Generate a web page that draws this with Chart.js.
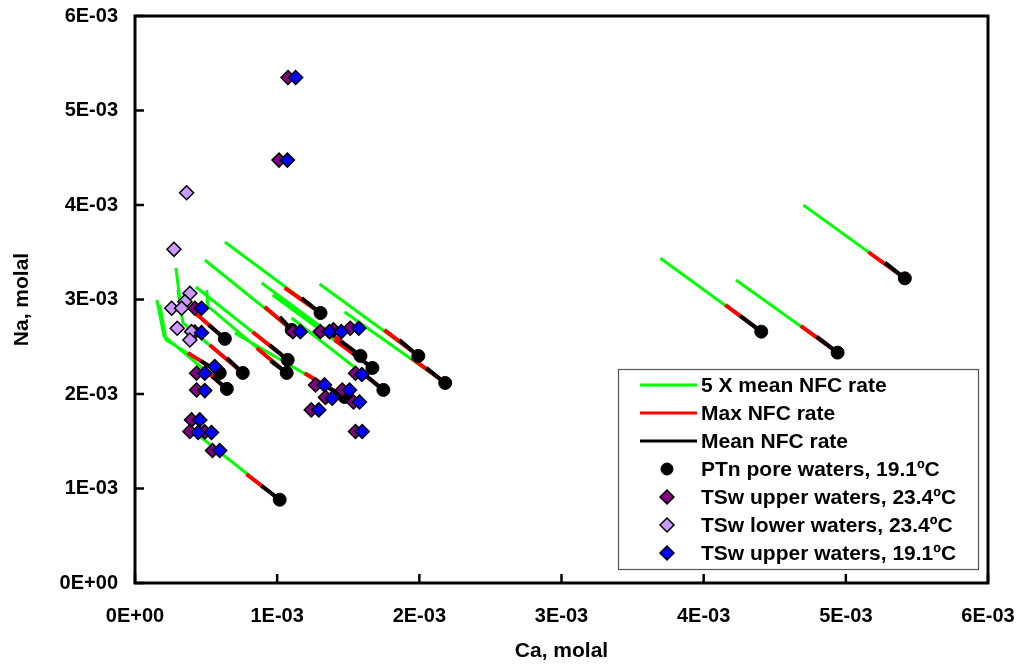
<!DOCTYPE html>
<html>
<head>
  <title>Na vs Ca - NFC rate paths</title>
  <script src="https://cdn.jsdelivr.net/npm/chart.js"></script>
  <style>
    html, body { margin: 0; padding: 0; background: #fff; }
    canvas { display: block; }
  </style>
</head>
<body>
  <canvas id="chart" width="1020" height="668"></canvas>

  <script>
    // PTn pore waters, 19.1ºC (end point of every path)
    const ptnCa = [0.646e-3, 0.596e-3, 0.632e-3, 0.758e-3, 1.074e-3, 1.067e-3, 1.102e-3, 1.305e-3, 1.586e-3,
                   1.670e-3, 1.993e-3, 2.182e-3, 1.747e-3, 1.474e-3, 1.018e-3, 5.415e-3, 4.405e-3, 4.942e-3];
    const ptnNa = [2.054e-3, 2.223e-3, 2.584e-3, 2.223e-3, 2.361e-3, 2.223e-3, 2.678e-3, 2.857e-3, 2.403e-3,
                   2.276e-3, 2.403e-3, 2.117e-3, 2.043e-3, 1.969e-3, 0.881e-3, 3.224e-3, 2.660e-3, 2.438e-3];

    // 5 X mean NFC rate: upstream points of each path [Ca, Na]
    const fastPaths = [
      [[0.154e-3, 2.995e-3], [0.204e-3, 2.614e-3]],
      [[0.175e-3, 2.942e-3], [0.218e-3, 2.572e-3]],
      [[0.288e-3, 3.333e-3], [0.316e-3, 2.995e-3]],
      [[0.302e-3, 3.100e-3], [0.337e-3, 2.752e-3]],
      [[0.428e-3, 3.132e-3]],
      [[0.505e-3, 3.100e-3], [0.512e-3, 2.931e-3]],
      [[0.491e-3, 3.418e-3]],
      [[0.632e-3, 3.608e-3]],
      [[0.891e-3, 3.174e-3]],
      [[0.968e-3, 3.048e-3]],
      [[1.298e-3, 3.164e-3]],
      [[1.474e-3, 2.868e-3]],
      [[1.102e-3, 2.804e-3]],
      [[0.702e-3, 2.646e-3]],
      [[0.456e-3, 1.552e-3]],
      [[4.702e-3, 3.999e-3]],
      [[3.696e-3, 3.436e-3]],
      [[4.227e-3, 3.206e-3]]
    ];

    // Max NFC rate: start of each path [Ca, Na]
    const maxStarts = [
      [0.470e-3, 2.278e-3], [0.372e-3, 2.435e-3], [0.407e-3, 2.878e-3], [0.526e-3, 2.519e-3],
      [0.828e-3, 2.656e-3], [0.856e-3, 2.487e-3], [0.912e-3, 2.923e-3], [1.053e-3, 3.122e-3],
      [1.319e-3, 2.699e-3], [1.404e-3, 2.572e-3], [1.754e-3, 2.678e-3], [1.944e-3, 2.382e-3],
      [1.579e-3, 2.244e-3], [1.193e-3, 2.220e-3], [0.784e-3, 1.152e-3], [5.160e-3, 3.500e-3],
      [4.152e-3, 2.942e-3], [4.683e-3, 2.720e-3]
    ];

    // Mean NFC rate: start of each path [Ca, Na]
    const meanStarts = [
      [0.547e-3, 2.182e-3], [0.463e-3, 2.350e-3], [0.519e-3, 2.731e-3], [0.646e-3, 2.382e-3],
      [0.947e-3, 2.519e-3], [0.954e-3, 2.350e-3], [1.018e-3, 2.817e-3], [1.172e-3, 3.016e-3],
      [1.446e-3, 2.561e-3], [1.530e-3, 2.434e-3], [1.860e-3, 2.572e-3], [2.049e-3, 2.276e-3],
      [1.635e-3, 2.181e-3], [1.319e-3, 2.102e-3], [0.889e-3, 1.029e-3], [5.275e-3, 3.390e-3],
      [4.257e-3, 2.826e-3], [4.795e-3, 2.607e-3]
    ];

    // TSw upper waters, 23.4ºC
    const upper23Ca = [1.076e-3, 1.013e-3, 0.421e-3, 0.421e-3, 0.433e-3, 0.433e-3, 0.398e-3, 0.386e-3, 0.491e-3,
                       0.545e-3, 1.111e-3, 1.303e-3, 1.396e-3, 1.514e-3, 1.551e-3, 1.270e-3, 1.458e-3, 1.340e-3,
                       1.537e-3, 1.240e-3, 1.551e-3];
    const upper23Na = [5.349e-3, 4.475e-3, 2.907e-3, 2.656e-3, 2.220e-3, 2.043e-3, 1.726e-3, 1.603e-3, 1.599e-3,
                       1.402e-3, 2.660e-3, 2.660e-3, 2.678e-3, 2.696e-3, 2.220e-3, 2.096e-3, 2.043e-3, 1.964e-3,
                       1.916e-3, 1.832e-3, 1.603e-3];

    // TSw lower waters, 23.4ºC
    const lower23Ca = [0.363e-3, 0.274e-3, 0.386e-3, 0.351e-3, 0.258e-3, 0.328e-3, 0.297e-3, 0.398e-3, 0.386e-3];
    const lower23Na = [4.129e-3, 3.531e-3, 3.066e-3, 2.977e-3, 2.907e-3, 2.907e-3, 2.696e-3, 2.660e-3, 2.572e-3];

    // TSw upper waters, 19.1ºC
    const upper19Ca = [1.130e-3, 1.072e-3, 0.468e-3, 0.468e-3, 0.491e-3, 0.561e-3, 0.491e-3, 0.456e-3, 0.444e-3,
                       0.538e-3, 0.596e-3, 1.163e-3, 1.368e-3, 1.451e-3, 1.574e-3, 1.596e-3, 1.333e-3, 1.509e-3,
                       1.387e-3, 1.579e-3, 1.293e-3, 1.598e-3];
    const upper19Na = [5.349e-3, 4.475e-3, 2.907e-3, 2.649e-3, 2.220e-3, 2.290e-3, 2.036e-3, 1.726e-3, 1.592e-3,
                       1.592e-3, 1.402e-3, 2.660e-3, 2.660e-3, 2.660e-3, 2.696e-3, 2.207e-3, 2.096e-3, 2.043e-3,
                       1.956e-3, 1.916e-3, 1.832e-3, 1.603e-3];

    const axisTicks = [0, 1e-3, 2e-3, 3e-3, 4e-3, 5e-3, 6e-3];

    Chart.defaults.font.family = '"Liberation Sans", Arial, sans-serif';
    Chart.defaults.color = '#000';

    const xy = (ca, na) => ({ x: ca, y: na });
    const gap = { x: null, y: null };

    // each path runs from its start point down to the PTn water it ends at
    function pathData(startFor) {
      const out = [];
      ptnCa.forEach((ca, i) => {
        startFor(i).forEach(p => out.push(xy(p[0], p[1])));
        out.push(xy(ca, ptnNa[i]), gap);
      });
      return out;
    }

    const pairs = (cas, nas) => cas.map((c, i) => xy(c, nas[i]));

    // 0E+00, 1E-03 ...
    function sci(v) {
      if (Math.abs(v) < 1e-12) return '0E+00';
      const e = Math.floor(Math.log10(v) + 1e-9);
      const m = Math.round(v / Math.pow(10, e));
      return m + 'E' + (e < 0 ? '-' : '+') + String(Math.abs(e)).padStart(2, '0');
    }

    function marker(ctx, style, x, y, r, fill) {
      ctx.beginPath();
      if (style === 'circle') {
        ctx.arc(x, y, r, 0, Math.PI * 2);
      } else {
        ctx.moveTo(x - r, y); ctx.lineTo(x, y - r); ctx.lineTo(x + r, y); ctx.lineTo(x, y + r);
        ctx.closePath();
      }
      ctx.fillStyle = fill;
      ctx.fill();
      ctx.lineWidth = style === 'circle' ? 1 : 1.5;
      ctx.strokeStyle = '#000';
      ctx.stroke();
    }

    // box frame and inward tick marks
    const framePlugin = {
      id: 'frame',
      afterDatasetsDraw(chart) {
        const { ctx, chartArea: a, scales } = chart;
        ctx.save();
        ctx.strokeStyle = '#000';
        ctx.lineWidth = 3;
        ctx.strokeRect(a.left, a.top, a.right - a.left, a.bottom - a.top);
        ctx.lineWidth = 2.5;
        ctx.beginPath();
        axisTicks.forEach(v => {
          const px = scales.x.getPixelForValue(v);
          ctx.moveTo(px, a.bottom); ctx.lineTo(px, a.bottom - 9);
          const py = scales.y.getPixelForValue(v);
          ctx.moveTo(a.left, py); ctx.lineTo(a.left + 9, py);
        });
        ctx.stroke();
        ctx.restore();
      }
    };

    // legend in a box inside the plot
    const boxLegend = {
      id: 'boxLegend',
      afterDraw(chart) {
        const ctx = chart.ctx;
        const left = 618, top = 369, w = 360, h = 200;
        ctx.save();
        ctx.fillStyle = '#fff';
        ctx.fillRect(left, top, w, h);
        ctx.strokeStyle = '#555';
        ctx.lineWidth = 1.2;
        ctx.strokeRect(left + 0.5, top + 0.5, w, h);
        ctx.font = 'bold 21px "Liberation Sans", Arial, sans-serif';
        ctx.textBaseline = 'middle';
        chart.data.datasets.forEach((ds, i) => {
          const yy = top + 16 + i * 28;
          if (ds.showLine) {
            ctx.strokeStyle = ds.borderColor;
            ctx.lineWidth = 3;
            ctx.beginPath();
            ctx.moveTo(640, yy); ctx.lineTo(697, yy);
            ctx.stroke();
          } else {
            marker(ctx, ds.pointStyle, 667, yy, ds.pointStyle === 'circle' ? 6 : 7, ds.backgroundColor);
          }
          ctx.fillStyle = '#000';
          ctx.fillText(ds.label, 701, yy + 1);
        });
        ctx.restore();
      }
    };

    const lineSet = (label, color, width, data, order) => ({
      label, data, order, showLine: true, borderColor: color, backgroundColor: color,
      borderWidth: width, pointRadius: 0, pointHoverRadius: 0, spanGaps: false
    });
    const pointSet = (label, style, fill, radius, data, order) => ({
      label, data, order, showLine: false, pointStyle: style, backgroundColor: fill,
      borderColor: style === 'circle' ? fill : '#000', borderWidth: style === 'circle' ? 1 : 1.5,
      pointRadius: radius, pointHoverRadius: radius
    });

    const tickFont = { size: 20, weight: 'bold' };
    const titleFont = { size: 21, weight: 'bold' };

    // plot box is pinned by the layout padding, so drop the label overhang padding
    function noOverhang(s) {
      s.paddingLeft = 0; s.paddingRight = 0; s.paddingTop = 0; s.paddingBottom = 0;
    }

    new Chart(document.getElementById('chart'), {
      type: 'scatter',
      data: {
        datasets: [
          lineSet('5 X mean NFC rate', '#00ff00', 3, pathData(i => fastPaths[i]), 7),
          lineSet('Max NFC rate', '#ff0000', 4, pathData(i => [maxStarts[i]]), 6),
          lineSet('Mean NFC rate', '#000000', 4, pathData(i => [meanStarts[i]]), 5),
          pointSet('PTn pore waters, 19.1ºC', 'circle', '#000000', 6.5, pairs(ptnCa, ptnNa), 4),
          pointSet('TSw upper waters, 23.4ºC', 'rectRot', '#800080', 7, pairs(upper23Ca, upper23Na), 3),
          pointSet('TSw lower waters, 23.4ºC', 'rectRot', '#cc99ff', 7, pairs(lower23Ca, lower23Na), 2),
          pointSet('TSw upper waters, 19.1ºC', 'rectRot', '#0000ff', 7, pairs(upper19Ca, upper19Na), 1)
        ]
      },
      options: {
        responsive: false,
        animation: false,
        devicePixelRatio: 1,
        layout: { padding: { top: 16, right: 32, left: 0, bottom: 0 } },
        plugins: { legend: { display: false }, tooltip: { enabled: false } },
        scales: {
          x: {
            type: 'linear', min: 0, max: 6e-3,
            afterBuildTicks: s => { s.ticks = axisTicks.map(v => ({ value: v })); },
            ticks: { callback: sci, font: tickFont, color: '#000', padding: 21, maxRotation: 0, autoSkip: false },
            grid: { display: false, drawTicks: false },
            border: { display: false },
            title: { display: true, text: 'Ca, molal', font: titleFont, color: '#000', padding: { top: 0, bottom: 4 } },
            afterFit: s => { s.height = 85; noOverhang(s); }
          },
          y: {
            type: 'linear', min: 0, max: 6e-3,
            afterBuildTicks: s => { s.ticks = axisTicks.map(v => ({ value: v })); },
            ticks: { callback: sci, font: tickFont, color: '#000', padding: 17, autoSkip: false },
            grid: { display: false, drawTicks: false },
            border: { display: false },
            title: { display: true, text: 'Na, molal', font: titleFont, color: '#000', padding: { top: 10, bottom: 0 } },
            afterFit: s => { s.width = 135; noOverhang(s); }
          }
        }
      },
      plugins: [framePlugin, boxLegend]
    });
  </script>
</body>
</html>
